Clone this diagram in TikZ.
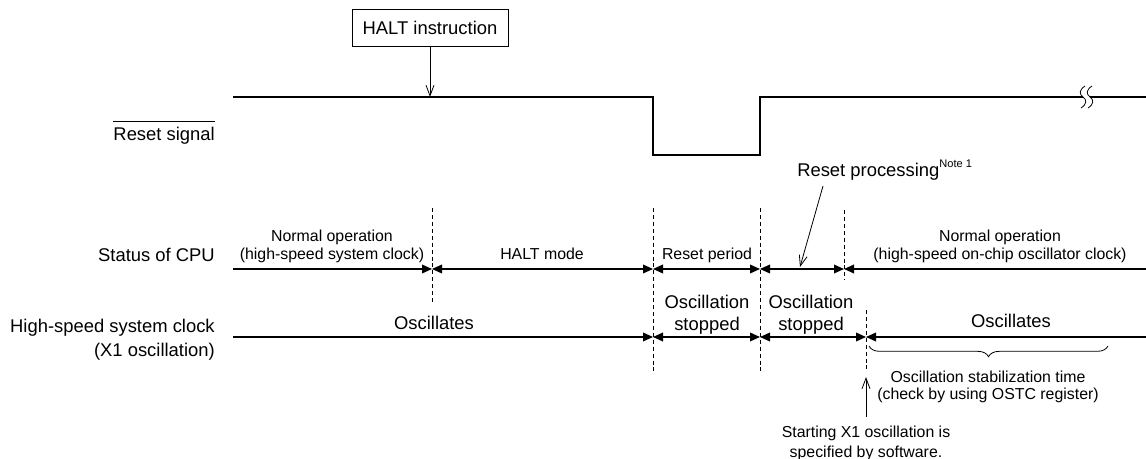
\documentclass[tikz,border=0pt]{standalone}
\usepackage{fontspec}
\setmainfont{Liberation Sans}
\usetikzlibrary{arrows.meta,decorations.pathreplacing}
\begin{document}
\begin{tikzpicture}[x=0.75pt,y=-0.75pt,
  >={Triangle[length=7.5pt,width=6.5pt]},
  big/.style={font=\fontsize{13.8}{16}\selectfont, inner sep=0pt},
  small/.style={font=\fontsize{11.9}{14}\selectfont, inner sep=0pt},
  sig/.style={line width=1.6pt, line join=miter},
  tline/.style={line width=1.1pt},
  thin/.style={line width=0.6pt},
  divider/.style={line width=0.6pt, dash pattern=on 3pt off 2.2pt},
  varrow/.style={line width=0.6pt, -{Straight Barb[length=8pt,width=6pt]}},
  boxed/.style={draw, line width=0.6pt, minimum width=117pt, minimum height=27.75pt, inner sep=0pt,
    font=\fontsize{13.8}{16}\selectfont}
]
\useasboundingbox (0,0) rectangle (1146,459);

% ---- HALT instruction ----
\node[boxed] (halt) at (430,27.5) {HALT instruction};
\coordinate (haltpt) at (430,97);
\draw[varrow] (halt.south) -- (haltpt);

% ---- Reset signal ----
\node[big, anchor=base east] (rs) at (215,141) {Reset signal};
\draw[thin] ([yshift=4.5pt]rs.north west) -- ([yshift=4.5pt]rs.north east);
\draw[sig] (233,97) -- (653,97) -- (653,155) -- (760,155) -- (760,97) -- (1083,97);
\draw[sig] (1090,97) -- (1146,97);
\draw[thin] (1085,86) .. controls (1079,90) and (1079,94) .. (1083,97)
             .. controls (1087,100) and (1087,104) .. (1081,108);
\draw[thin] (1092,86) .. controls (1086,90) and (1086,94) .. (1090,97)
             .. controls (1094,100) and (1094,104) .. (1088,108);

% ---- Reset processing ----
\node[big, anchor=base west] (rp) at (797,177) {Reset processing\raisebox{7pt}{\fontsize{8.3}{9}\selectfont Note 1}};
\coordinate (rpa) at (823,186);
\coordinate (rpb) at (800,267);
\draw[varrow] (rpa) -- (rpb);

% ---- dividers ----
\coordinate (d1t) at (432,208); \coordinate (d1b) at (432,302);
\coordinate (d2t) at (653,208); \coordinate (d2b) at (653,373);
\coordinate (d3t) at (760,208); \coordinate (d3b) at (760,373);
\coordinate (d4t) at (844,210); \coordinate (d4b) at (844,280);
\coordinate (d5t) at (866,310); \coordinate (d5b) at (866,370);
\draw[divider] (d1t) -- (d1b);
\draw[divider] (d2t) -- (d2b);
\draw[divider] (d3t) -- (d3b);
\draw[divider] (d4t) -- (d4b);
\draw[divider] (d5t) -- (d5b);

% ---- Status of CPU ----
\node[big, anchor=base east] (cpu) at (215,262) {Status of CPU};
\coordinate (c0) at (233,269);
\coordinate (c1) at (432,269);
\coordinate (c2) at (653,269);
\coordinate (c3) at (760,269);
\coordinate (c4) at (844,269);
\coordinate (c5) at (1146,269);
\draw[tline,->] (c0) -- (c1);
\draw[tline,<->] (c1) -- (c2);
\draw[tline,<->] (c2) -- (c3);
\draw[tline,<->] (c3) -- (c4);
\draw[tline,<-] (c4) -- (c5);

\node[small, anchor=base] (n1a) at (332,241.5) {Normal operation};
\node[small, anchor=base] (n1b) at (332,260) {(high-speed system clock)};
\node[small, anchor=base] (hm) at (542,260) {HALT mode};
\node[small, anchor=base] (rpd) at (707,260) {Reset period};
\node[small, anchor=base] (n2a) at (1000,241.5) {Normal operation};
\node[small, anchor=base] (n2b) at (1000,260) {(high-speed on-chip oscillator clock)};

% ---- High-speed system clock ----
\node[big, anchor=base east] (hs1) at (215,333) {High-speed system clock};
\node[big, anchor=base east] (hs2) at (215,357) {(X1 oscillation)};
\coordinate (x0) at (233,337);
\coordinate (x1) at (653,337);
\coordinate (x2) at (760,337);
\coordinate (x3) at (866,337);
\coordinate (x4) at (1146,337);
\draw[tline,->] (x0) -- (x1);
\draw[tline,<->] (x1) -- (x2);
\draw[tline,<->] (x2) -- (x3);
\draw[tline,<-] (x3) -- (x4);

\node[big, anchor=base] (os1) at (434,330) {Oscillates};
\node[big, anchor=base] (st1a) at (707,309) {Oscillation};
\node[big, anchor=base] (st1b) at (707,331) {stopped};
\node[big, anchor=base] (st2a) at (811,309) {Oscillation};
\node[big, anchor=base] (st2b) at (811,331) {stopped};
\node[big, anchor=base] (os2) at (1011,328) {Oscillates};

% ---- brace ----
\coordinate (bl) at (869,346);
\coordinate (br) at (1108,346);
\draw[thin, decorate, decoration={brace, amplitude=8pt, mirror}] (bl) -- (br);
\node[small, anchor=base] (ost1) at (988,383) {Oscillation stabilization time};
\node[small, anchor=base] (ost2) at (988,400) {(check by using OSTC register)};

% ---- Starting X1 oscillation ----
\node[small, anchor=base] (sx1) at (866,438) {Starting X1 oscillation is};
\node[small, anchor=base] (sx2) at (866,457) {specified by software.};
\coordinate (sxa) at (866,417);
\coordinate (sxb) at (866,377);
\draw[varrow] (sxa) -- (sxb);
\end{tikzpicture}
\end{document}
